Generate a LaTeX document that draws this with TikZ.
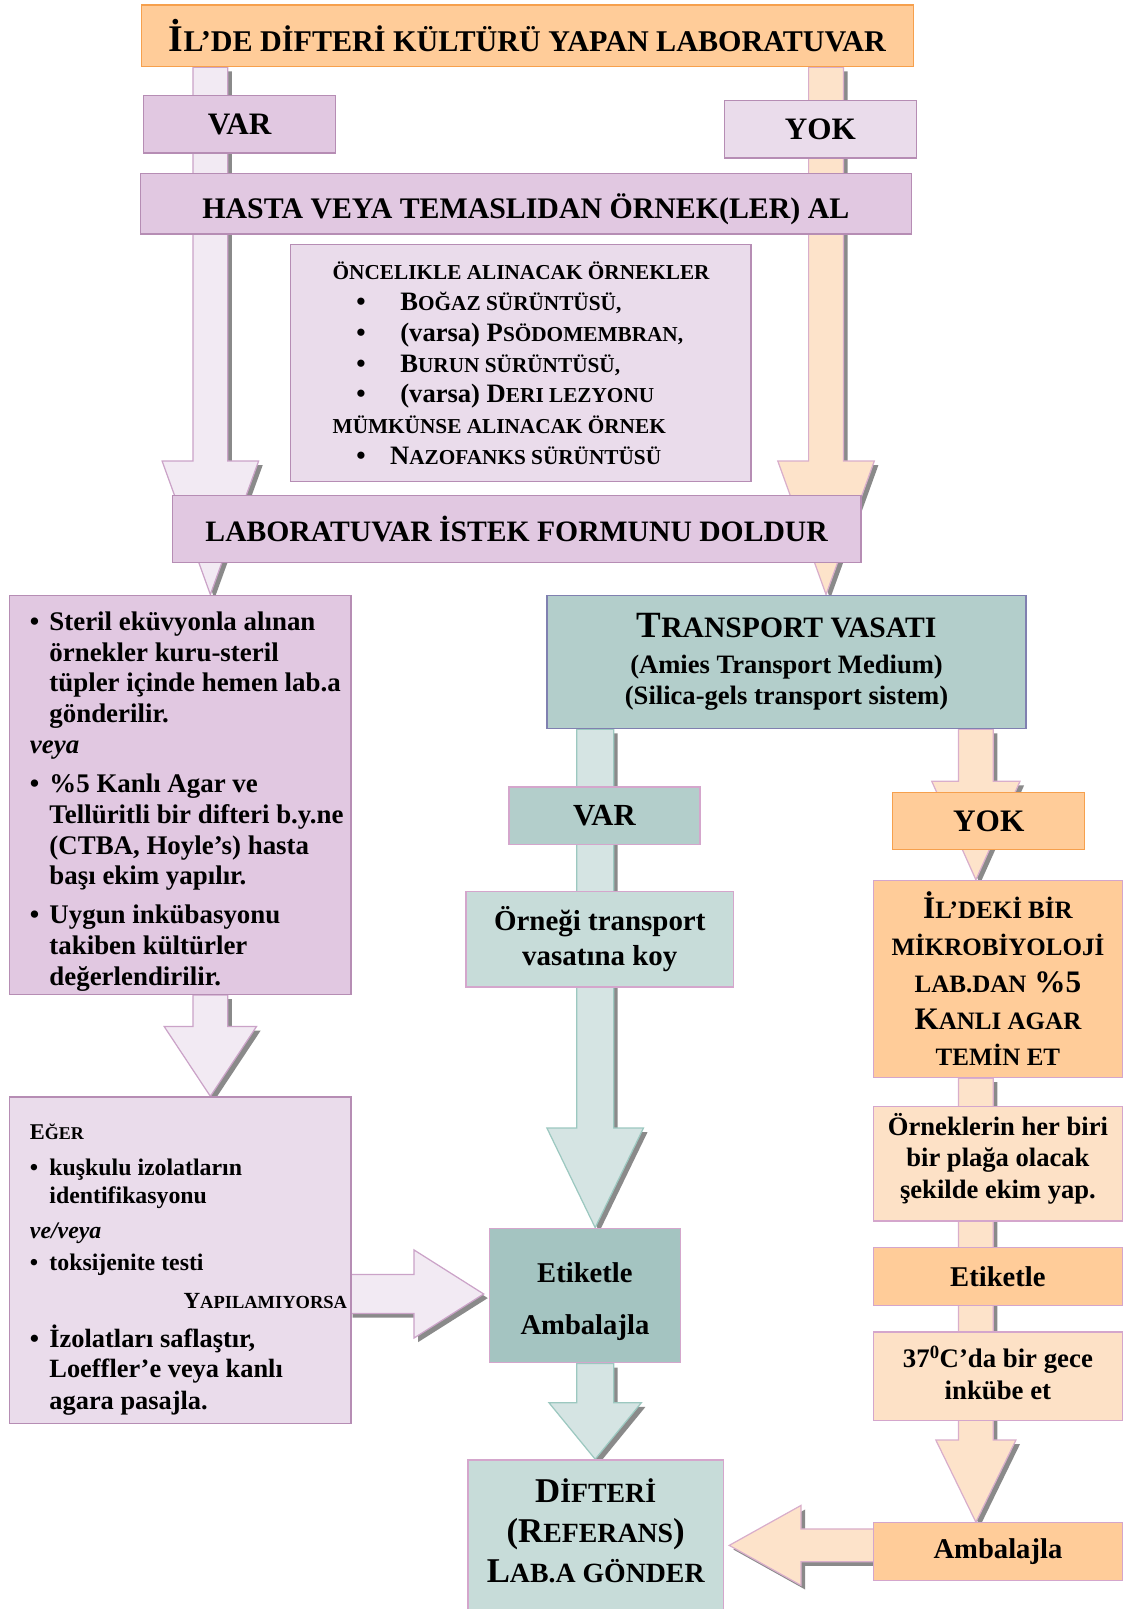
\documentclass[tikz,border=0pt]{standalone}
\usepackage{fontspec}
\setmainfont{Liberation Serif}
\usetikzlibrary{calc,backgrounds}
\makeatletter
\newcommand\smc[1]{{\fontsize{\fpeval{0.8*\f@size}}{\f@baselineskip}\selectfont #1}}
\makeatother
\newcommand\fs[2]{\fontsize{#1}{#2}\selectfont}
\newcommand\bul[1]{\makebox[#1][l]{\textbullet}}
\definecolor{orF}{HTML}{FFCC99}
\definecolor{orD}{HTML}{F6A04D}
\definecolor{lavF}{HTML}{E1C8E1}
\definecolor{lavD}{HTML}{B68DB4}
\definecolor{lavLF}{HTML}{EADCEB}
\definecolor{tealF}{HTML}{B3CECB}
\definecolor{tealBD}{HTML}{8080B0}
\definecolor{tealLF}{HTML}{C7DCD9}
\definecolor{tealDF}{HTML}{A4C4C1}
\definecolor{peachF}{HTML}{FDE1C6}
\definecolor{pinkD}{HTML}{D4A6CC}
\definecolor{arLav}{HTML}{F2EAF3}
\definecolor{arLavD}{HTML}{CBA3C8}
\definecolor{arPeach}{HTML}{FDE3CA}
\definecolor{arPeachD}{HTML}{D9AECB}
\definecolor{arTeal}{HTML}{D5E4E3}
\definecolor{arTealD}{HTML}{9CC8C0}
\definecolor{shade}{HTML}{8A8A8A}
% down block arrow: start, tip, head length, shaft half, head half, style
\newcommand\darrow[6]{%
  \path[#6] ($(#1)+(-#4,0)$) -- ($(#1)+(#4,0)$) -- ($(#2)+(#4,-#3)$) -- ($(#2)+(#5,-#3)$) -- (#2) -- ($(#2)+(-#5,-#3)$) -- ($(#2)+(-#4,-#3)$) -- cycle;}
% horizontal block arrow: start, tip, head-start x offset from tip, shaft half, head half, style
\newcommand\harrow[6]{%
  \path[#6] ($(#1)+(0,-#4)$) -- ($(#2)+(#3,-#4)$) -- ($(#2)+(#3,-#5)$) -- (#2) -- ($(#2)+(#3,#5)$) -- ($(#2)+(#3,#4)$) -- ($(#1)+(0,#4)$) -- cycle;}
\begin{document}
\begin{tikzpicture}[x=1bp,y=-1bp,
  box/.style={draw, line width=1.3bp, inner sep=0pt, align=center},
  txt/.style={inner sep=0pt, align=left},
  ctxt/.style={inner sep=0pt, align=center},
  lavarrow/.style={fill=arLav, draw=arLavD, line width=1.2bp},
  peacharrow/.style={fill=arPeach, draw=arPeachD, line width=1.2bp},
  tealarrow/.style={fill=arTeal, draw=arTealD, line width=1.2bp},
  shadowed/.style={fill=shade, transform canvas={xshift=4bp,yshift=-4bp}}]
\useasboundingbox (0,0) rectangle (1094,1568);

% ---------- boxes ----------
\node[box, fill=orF, draw=orD, minimum width=752bp, minimum height=60bp, font=\bfseries\fs{36.8}{40}] (title) at (514,35) {İ\smc{L’DE DİFTERİ KÜLTÜRÜ YAPAN LABORATUVAR}};
\node[box, fill=lavF, draw=lavD, minimum width=187bp, minimum height=56bp, font=\bfseries\fs{30.5}{34}] (var1) at (233.5,121) {VAR};
\node[box, fill=lavLF, draw=lavD, minimum width=187bp, minimum height=56bp, font=\bfseries\fs{30.5}{34}] (yok1) at (799.5,126) {YOK};
\node[box, fill=lavF, draw=lavD, minimum width=751bp, minimum height=59bp, font=\bfseries\fs{29.2}{34}] (hasta) at (512.5,198.5) {\raisebox{-5bp}[\height][\depth]{HASTA VEYA TEMASLIDAN ÖRNEK(LER) AL}};
\node[box, fill=lavLF, draw=lavD, minimum width=449bp, minimum height=231bp] (ornek) at (507.5,353.5) {};
\node[txt, anchor=west, font=\bfseries\fs{26}{30}] (ornektxt) at (324,354) {%
\smc{ÖNCELIKLE ALINACAK ÖRNEKLER}\\
\hspace*{23bp}\bul{43bp}B\smc{OĞAZ SÜRÜNTÜSÜ,}\\
\hspace*{23bp}\bul{43bp}(varsa) P\smc{SÖDOMEMBRAN,}\\
\hspace*{23bp}\bul{43bp}B\smc{URUN SÜRÜNTÜSÜ,}\\
\hspace*{23bp}\bul{43bp}(varsa) D\smc{ERI LEZYONU}\\
\smc{MÜMKÜNSE ALINACAK ÖRNEK}\\
\hspace*{23bp}\bul{33bp}N\smc{AZOFANKS SÜRÜNTÜSÜ}};
\node[box, fill=lavF, draw=lavD, minimum width=671bp, minimum height=65bp, font=\bfseries\fs{29}{34}] (lab) at (503.5,515.5) {LABORATUVAR İSTEK FORMUNU DOLDUR};

\node[box, fill=lavF, draw=lavD, minimum width=333bp, minimum height=389bp] (lbox) at (175.5,774.5) {};
\node[txt, anchor=west, font=\bfseries\fs{26.3}{30}] (lboxtxt) at (29,781) {%
\bul{19bp}Steril eküvyonla alınan\\
\hspace*{19bp}örnekler kuru-steril\\
\hspace*{19bp}tüpler içinde hemen lab.a\\
\hspace*{19bp}gönderilir.\\
\textit{veya}\\[9bp]
\bul{19bp}\%5 Kanlı Agar ve\\
\hspace*{19bp}Tellüritli bir difteri b.y.ne\\
\hspace*{19bp}(CTBA, Hoyle’s) hasta\\
\hspace*{19bp}başı ekim yapılır.\\[8bp]
\bul{19bp}Uygun inkübasyonu\\
\hspace*{19bp}takiben kültürler\\
\hspace*{19bp}değerlendirilir.};

\node[box, fill=lavLF, draw=lavD, minimum width=333bp, minimum height=318bp] (eger) at (175.5,1228) {};
\node[txt, anchor=west, font=\bfseries\fs{23.3}{27.5}] (egertxt) at (29,1237) {%
{\fs{22}{27.5}E\smc{ĞER}}\\[7.5bp]
\bul{19bp}kuşkulu izolatların\\
\hspace*{19bp}identifikasyonu\\[6.5bp]
\textit{ve/veya}\\[4.5bp]
\bul{19bp}toksijenite testi\\[9.5bp]
\makebox[309bp][r]{\fs{22.6}{27.5}Y\smc{APILAMIYORSA}}\\[10.5bp]
{\fs{25.8}{30}\bul{19bp}İzolatları saflaştır,}\\[1.5bp]
{\fs{25.8}{30}\hspace*{19bp}Loeffler’e veya kanlı}\\[3.5bp]
{\fs{25.8}{30}\hspace*{19bp}agara pasajla.}};

\node[box, fill=tealF, draw=tealBD, minimum width=467bp, minimum height=130bp, font=\bfseries\fs{26}{31}] (transport) at (766.5,645) {{\fs{36.2}{40}T\smc{RANSPORT VASATI}}\\[4bp](Amies Transport Medium)\\(Silica-gels transport sistem)};
\node[box, fill=tealF, draw=pinkD, minimum width=186bp, minimum height=56bp, font=\bfseries\fs{30}{34}] (var2) at (589,795) {VAR};
\node[box, fill=tealLF, draw=pinkD, minimum width=261bp, minimum height=93bp, font=\bfseries\fs{28.3}{34}] (orn2) at (584.5,915.5) {Örneği transport\\vasatına koy};
\node[box, fill=tealDF, draw=pinkD, minimum width=186bp, minimum height=131bp] (etikM) at (570,1262.5) {};
\node[ctxt, font=\bfseries\fs{28}{34}] (etikMtxt) at ($(etikM)+(0,6)$) {Etiketle\\[17bp]Ambalajla};
\node[box, fill=tealLF, draw=pinkD, minimum width=249bp, minimum height=156bp, anchor=north] (dift) at (580.5,1422) {};
\node[ctxt, font=\bfseries\fs{34}{39}] (difttxt) at (580.5,1492) {D\smc{İFTERİ}\\(R\smc{EFERANS})\\L\smc{AB.A GÖNDER}};

\node[box, fill=orF, draw=orD, minimum width=187bp, minimum height=56bp, font=\bfseries\fs{30.6}{34}] (yok2) at (963.5,800) {YOK};
\node[box, fill=orF, draw=pinkD, minimum width=243bp, minimum height=192bp, font=\bfseries\fs{30.6}{36}] (ildeki) at (972.5,954) {İ\smc{L’DEKİ BİR}\\\smc{MİKROBİYOLOJİ}\\\smc{LAB.DAN} \%5\\K\smc{ANLI AGAR}\\\smc{TEMİN ET}};
\node[box, fill=peachF, draw=pinkD, minimum width=243bp, minimum height=112bp] (ornk) at (972.5,1134) {};
\node[ctxt, font=\bfseries\fs{26}{31}] (ornktxt) at ($(ornk)+(0,-5)$) {Örneklerin her biri\\bir plağa olacak\\şekilde ekim yap.};
\node[box, fill=orF, draw=pinkD, minimum width=243bp, minimum height=56bp, font=\bfseries\fs{28}{34}] (etikR) at (972.5,1244) {Etiketle};
\node[box, fill=peachF, draw=pinkD, minimum width=243bp, minimum height=86bp] (inc) at (972.5,1341) {};
\node[ctxt, font=\bfseries\fs{26.2}{31}] (inctxt) at ($(inc)+(0,-3)$) {37\textsuperscript{0}C’da bir gece\\inkübe et};
\node[box, fill=orF, draw=pinkD, minimum width=243bp, minimum height=56bp, font=\bfseries\fs{28}{34}] (ambR) at (972.5,1512) {Ambalajla};

% ---------- reference coordinates ----------
\coordinate (xL) at (205,0);
\coordinate (xR) at (805,0);
\coordinate (xM) at (580,0);
\coordinate (xR2) at (951,0);
\coordinate (yE) at (0,1261);
\coordinate (sA1) at (title.south -| xL);
\coordinate (tA1) at (lbox.north -| xL);
\coordinate (sA2) at (title.south -| xR);
\coordinate (tA2) at (transport.north -| xR);
\coordinate (sA3) at (lbox.south -| xL);
\coordinate (tA3) at (eger.north -| xL);
\coordinate (sA4) at (transport.south -| xM);
\coordinate (tA4) at (etikM.north -| xM);
\coordinate (sA5) at (etikM.south -| xM);
\coordinate (tA5) at (dift.north -| xM);
\coordinate (sA6) at (transport.south -| xR2);
\coordinate (tA6) at (ildeki.north -| xR2);
\coordinate (sA7) at (ildeki.south -| xR2);
\coordinate (tA7) at (ambR.north -| xR2);
\coordinate (sA8) at ($(ambR.west)+(4,-6)$);
\coordinate (tA8) at ($(dift.east |- sA8)+(5,0)$);
\coordinate (sA9) at ($(eger.east |- yE)+(-3,0)$);
\coordinate (tA9) at ($(etikM.west |- yE)+(-5,0)$);

% ---------- block arrows (behind boxes) ----------
\begin{scope}[on background layer]
\darrow{sA1}{tA1}{130}{17}{47}{shadowed}
\darrow{sA1}{tA1}{130}{17}{47}{lavarrow}
\darrow{sA2}{tA2}{130}{17}{47}{shadowed}
\darrow{sA2}{tA2}{130}{17}{47}{peacharrow}
\darrow{sA3}{tA3}{68}{17}{45}{shadowed}
\darrow{sA3}{tA3}{68}{17}{45}{lavarrow}
\darrow{sA4}{tA4}{97}{18}{47}{shadowed}
\darrow{sA4}{tA4}{97}{18}{47}{tealarrow}
\darrow{sA5}{tA5}{55}{18}{45}{shadowed}
\darrow{sA5}{tA5}{55}{18}{45}{tealarrow}
\darrow{sA6}{tA6}{96}{17}{43}{shadowed}
\darrow{sA6}{tA6}{96}{17}{43}{peacharrow}
\darrow{sA7}{tA7}{80}{17}{39}{shadowed}
\darrow{sA7}{tA7}{80}{17}{39}{peacharrow}
\harrow{sA8}{tA8}{70}{16}{39}{shadowed}
\harrow{sA8}{tA8}{70}{16}{39}{peacharrow}
\harrow{sA9}{tA9}{-68}{19}{43}{shadowed}
\harrow{sA9}{tA9}{-68}{19}{43}{lavarrow}
\end{scope}
\end{tikzpicture}
\end{document}
